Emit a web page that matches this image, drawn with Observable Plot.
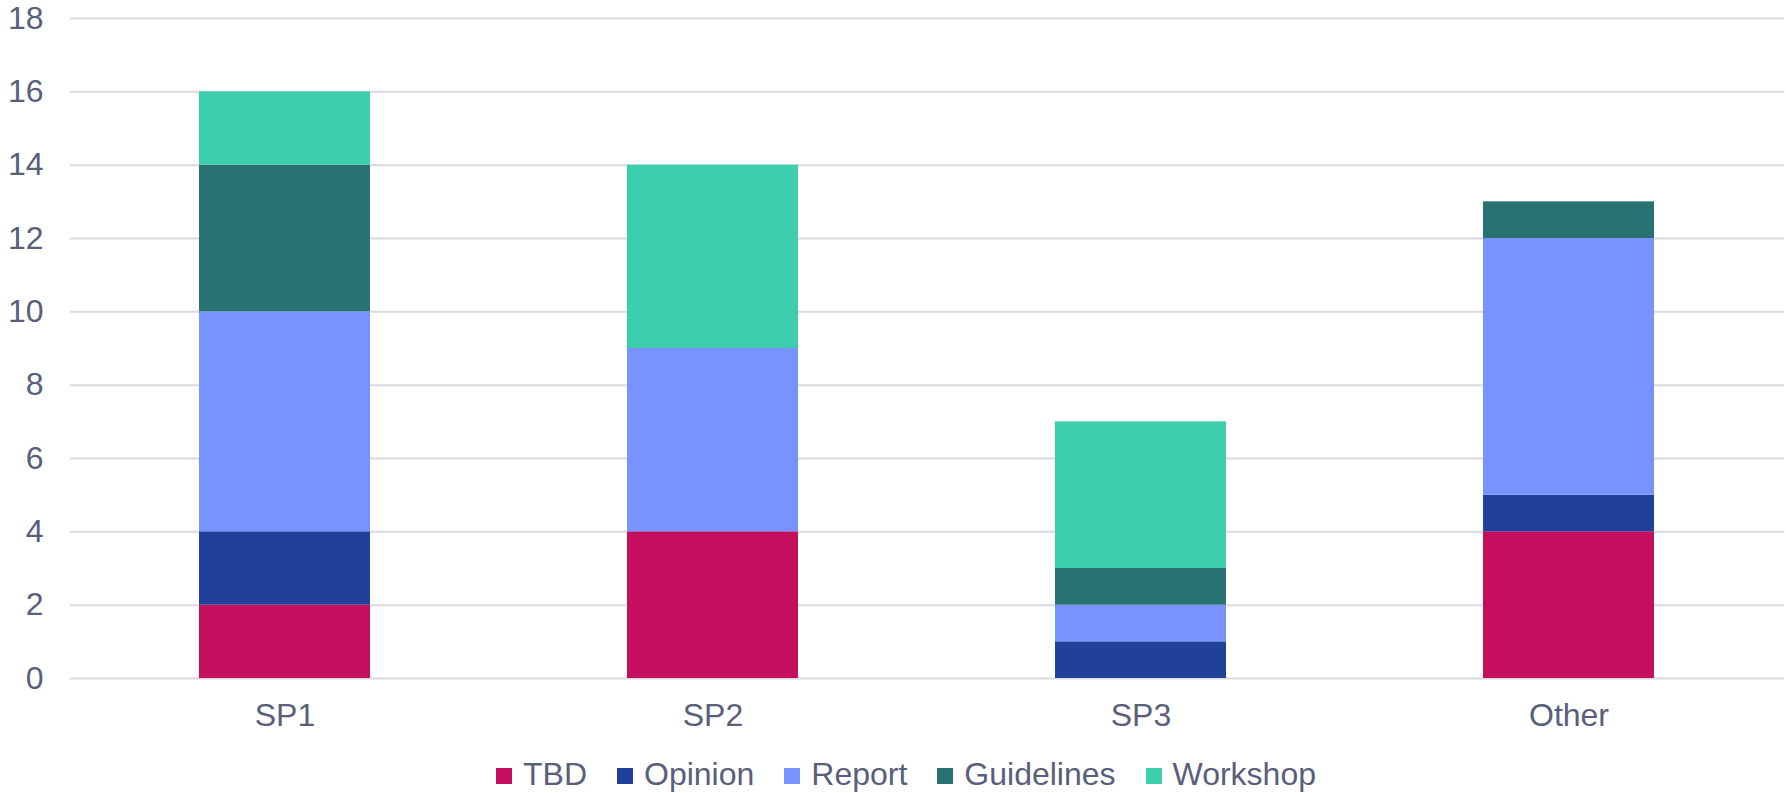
<!DOCTYPE html>
<html>
<head>
<meta charset="utf-8">
<script src="https://cdn.jsdelivr.net/npm/d3@7"></script>
<script src="https://cdn.jsdelivr.net/npm/@observablehq/plot@0.6"></script>
<style>
  html, body { margin: 0; padding: 0; background: #fff; }
  body { width: 1786px; height: 793px; overflow: hidden; font-family: "Liberation Sans", Arial, sans-serif; color: #595f7a; }
  #legend { display: flex; justify-content: center; padding-top: 13px; padding-left: 26px; font-size: 32px; line-height: 32px; height: 35px; }
  .item { margin: 0 15px; white-space: nowrap; }
  .sw { display: inline-block; width: 16px; height: 16px; margin-right: 11px; vertical-align: 1px; }
</style>
</head>
<body>
<div id="chart"></div>
<div id="legend"></div>
<script>
const categories = ["SP1", "SP2", "SP3", "Other"];
const seriesNames = ["TBD", "Opinion", "Report", "Guidelines", "Workshop"];
const seriesColors = ["#c40f5e", "#21409a", "#7893ff", "#287271", "#3dcead"];
const TBD        = [2, 4, 0, 4];
const Opinion    = [2, 0, 1, 1];
const Report     = [6, 5, 1, 7];
const Guidelines = [4, 0, 1, 1];
const Workshop   = [2, 5, 4, 0];
const yTicks = [0, 2, 4, 6, 8, 10, 12, 14, 16, 18];

const seriesValues = [TBD, Opinion, Report, Guidelines, Workshop];
const rows = [];
seriesNames.forEach((s, i) => {
  categories.forEach((c, j) => {
    rows.push({category: c, series: s, value: seriesValues[i][j]});
  });
});

const chart = Plot.plot({
  width: 1786,
  height: 745,
  marginTop: 18,
  marginLeft: 70,
  marginRight: 2,
  marginBottom: 67,
  style: {fontSize: "32px", fontFamily: "Liberation Sans, Arial, sans-serif", color: "#595f7a", background: "#fff"},
  x: {domain: categories, paddingInner: 0.6, paddingOuter: 0.3, label: null},
  y: {domain: [0, 18], label: null},
  color: {domain: seriesNames, range: seriesColors},
  marks: [
    Plot.gridY(yTicks, {stroke: "#d9dae1", strokeOpacity: 1, strokeWidth: 2}),
    Plot.barY(rows, {x: "category", y: "value", fill: "series", order: seriesNames}),
    Plot.axisY(yTicks, {tickSize: 0, tickPadding: 27, label: null, fontSize: 32}),
    Plot.axisX({tickSize: 0, tickPadding: 25, label: null, fontSize: 32})
  ]
});
document.getElementById("chart").appendChild(chart);

const legend = d3.select("#legend");
seriesNames.forEach((s, i) => {
  const it = legend.append("span").attr("class", "item");
  it.append("span").attr("class", "sw").style("background", seriesColors[i]);
  it.append("span").text(s);
});
</script>
</body>
</html>
